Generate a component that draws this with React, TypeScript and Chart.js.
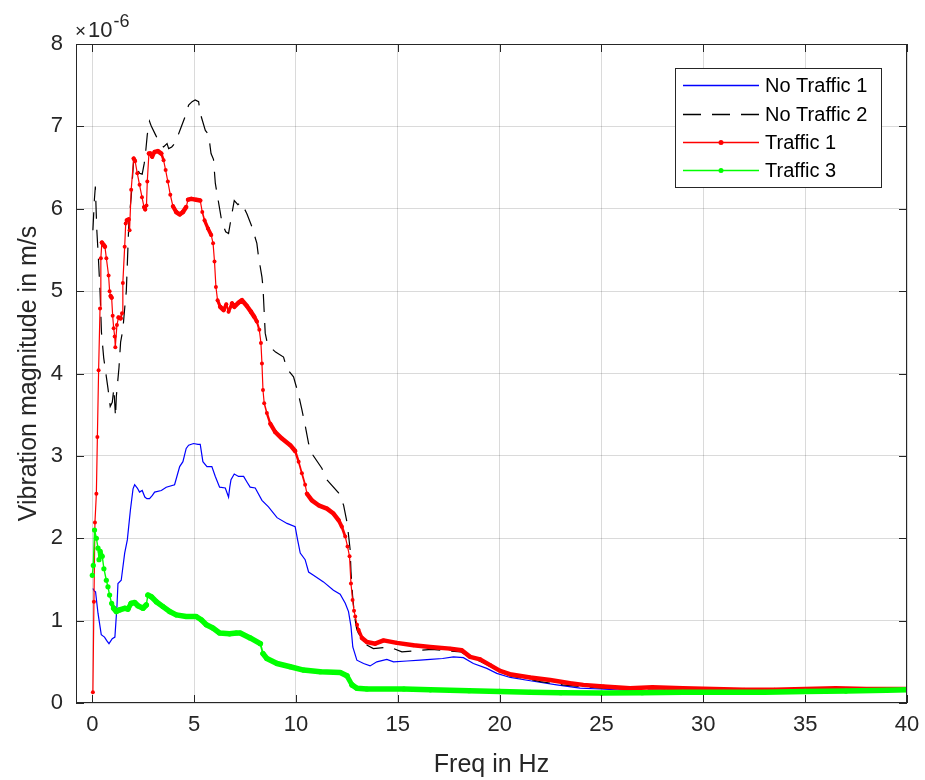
import React, { useEffect, useRef } from "react";
import { Chart, registerables } from "chart.js";

Chart.register(...registerables);

// ---------- axis settings ----------
const xTickValues = [0, 5, 10, 15, 20, 25, 30, 35, 40];
const yTickValues = [0, 1, 2, 3, 4, 5, 6, 7, 8];
const xLimits = [-0.8, 40];
const yLimits = [0, 8];
const yExponentText = ["\u00d7", "10", "-6"];
const xTitle = "Freq in Hz";
const yTitle = "Vibration magnitude in m/s";

// ---------- data (magnitudes in units of 1e-6 m/s) ----------
const noTraffic1Freq = [
  0.03, 0.1, 0.16, 0.28, 0.44, 0.6, 0.7, 0.82, 0.98, 1.11, 1.21, 1.26, 1.42, 1.59, 1.72, 1.87, 2.0, 2.08,
  2.21, 2.32, 2.45, 2.58, 2.68, 2.81, 2.95, 3.06, 3.39, 3.63, 4.04, 4.29, 4.45, 4.61, 4.73, 4.97, 5.19, 5.3,
  5.43, 5.63, 5.87, 6.04, 6.25, 6.53, 6.69, 6.75, 6.81, 6.97, 7.18, 7.43, 7.6, 7.75, 8.0, 8.33, 8.65, 9.07,
  9.56, 9.96, 10.08, 10.21, 10.45, 10.62, 10.86, 11.35, 11.84, 12.17, 12.42, 12.58, 12.7, 12.79, 12.99, 13.32,
  13.64, 13.97, 14.46, 14.79, 15.45, 16.1, 16.6, 17.2, 17.73, 18.22, 18.71, 19.37, 19.86, 20.52, 21.5, 22.8,
  23.95, 24.93, 26.5, 28, 30, 32, 34, 36, 38, 40,
];
const noTraffic1Mag = [
  1.39, 1.36, 1.35, 1.09, 0.83, 0.8, 0.76, 0.72, 0.78, 0.8, 1.17, 1.45, 1.49, 1.82, 1.98, 2.34, 2.6, 2.65,
  2.61, 2.56, 2.58, 2.5, 2.48, 2.48, 2.52, 2.56, 2.58, 2.62, 2.65, 2.87, 2.93, 3.09, 3.13, 3.15, 3.14, 3.14,
  2.93, 2.87, 2.87, 2.75, 2.62, 2.61, 2.5, 2.62, 2.71, 2.78, 2.75, 2.75, 2.68, 2.62, 2.61, 2.46, 2.38, 2.25,
  2.18, 2.14, 1.98, 1.82, 1.74, 1.59, 1.55, 1.47, 1.37, 1.32, 1.21, 1.11, 0.93, 0.68, 0.52, 0.48,
  0.45, 0.5, 0.53, 0.5, 0.51, 0.52, 0.53, 0.54, 0.56, 0.55, 0.48, 0.42, 0.36, 0.31, 0.27, 0.22,
  0.18, 0.17, 0.15, 0.14, 0.14, 0.14, 0.14, 0.15, 0.16, 0.17,
];

const noTraffic2Freq = [
  0.03, 0.1, 0.15, 0.22, 0.3, 0.38, 0.45, 0.56, 0.69, 0.77, 0.88, 0.98, 1.06, 1.14, 1.18, 1.31, 1.39, 1.5,
  1.6, 1.67, 1.8, 1.91, 1.98, 2.03, 2.16, 2.32, 2.45, 2.55, 2.62, 2.7, 2.81, 2.9, 3.1, 3.3, 3.5, 3.67, 3.75,
  3.9, 4.07, 4.3, 4.56, 4.73, 4.9, 5.05, 5.22, 5.3, 5.55, 5.71, 5.83, 5.95, 6.04, 6.12, 6.28, 6.36, 6.55,
  6.69, 6.82, 6.97, 7.15, 7.31, 7.59, 7.84, 8.08, 8.16, 8.33, 8.38, 8.49, 8.6, 8.74, 9.0, 9.39, 9.55, 9.88,
  10.13, 10.29, 10.45, 10.62, 10.83, 11.27, 11.52, 12.09, 12.34, 12.5, 12.58, 12.66, 12.7, 12.78, 12.88,
  12.98, 13.06, 13.3, 13.5, 13.8, 14.6, 15.2, 16.1, 16.67, 17.57, 18.1, 18.5, 19.0, 19.5, 20.0, 20.5, 21.2,
  22.0, 23.1, 24.0, 25.0, 26.5, 28, 30, 32, 34, 36, 38, 40,
];
const noTraffic2Mag = [
  5.74, 6.1, 6.27, 5.75, 5.4, 5.0, 4.5, 4.19, 3.96, 3.82, 3.6, 3.65, 3.82, 3.47, 3.72, 4.07, 4.38, 4.53,
  4.82, 5.0, 5.86, 6.14, 6.4, 6.58, 6.51, 6.43, 6.42, 6.55, 6.69, 6.9, 7.06, 7.0, 6.9, 6.8, 6.75, 6.79, 6.73,
  6.75, 6.8, 6.95, 7.12, 7.26, 7.3, 7.32, 7.3, 7.16, 6.95, 6.9, 6.67, 6.6, 6.31, 6.19, 5.96, 5.84, 5.72,
  5.7, 5.89, 6.1, 6.05, 6.08, 5.94, 5.78, 5.58, 5.42, 5.17, 5.05, 4.49, 4.36, 4.32, 4.26, 4.2, 4.06, 3.96,
  3.74, 3.56, 3.37, 3.15, 3.01, 2.85, 2.71, 2.55, 2.4, 2.2, 2.04, 1.86, 1.6, 1.3, 1.05,
  0.9, 0.85, 0.76, 0.7, 0.66, 0.68, 0.62, 0.64, 0.65, 0.63, 0.62, 0.56, 0.51, 0.45, 0.38, 0.33, 0.3,
  0.26, 0.22, 0.2, 0.18, 0.17, 0.17, 0.16, 0.15, 0.16, 0.17, 0.16, 0.17,
];

const traffic1Freq = [
  0.03, 0.08, 0.13, 0.2, 0.25, 0.31, 0.38, 0.42, 0.47, 0.56, 0.62, 0.69, 0.8, 0.85, 0.9, 0.95, 1.0, 1.05,
  1.1, 1.13, 1.21, 1.29, 1.39, 1.46, 1.5, 1.59, 1.64, 1.7, 1.78, 1.83, 1.91, 2.03, 2.1, 2.21, 2.32, 2.44,
  2.54, 2.6, 2.66, 2.7, 2.78, 2.85, 2.94, 3.06, 3.22, 3.39, 3.5, 3.6, 3.71, 3.83, 3.96, 4.12, 4.29, 4.45,
  4.61, 4.7, 4.86, 5.1, 5.3, 5.4, 5.51, 5.68, 5.84, 5.93, 6.0, 6.07, 6.15, 6.28, 6.45, 6.58, 6.69, 6.86,
  6.97, 7.18, 7.35, 7.59, 7.79, 7.95, 8.08, 8.2, 8.28, 8.33, 8.38, 8.44, 8.57, 8.74, 8.98, 9.31, 9.72, 9.96,
  10.13, 10.29, 10.45, 10.54, 10.78, 11.11, 11.52, 11.84, 12.09, 12.25, 12.42, 12.53, 12.63, 12.7, 12.78,
  12.85, 12.91, 13.0, 13.07, 13.24, 13.48, 13.89, 14.3, 14.95, 15.77, 16.59, 17.57, 18.14, 18.55, 19.04,
  19.53, 20.02, 20.5, 21.5, 22.48, 23.46, 24.11, 25.1, 26.4, 27.5, 29, 30.5, 32, 33.5, 35, 36.5, 38, 40,
];
const traffic1Mag = [
  0.13, 1.23, 2.19, 2.54, 3.23, 4.04, 4.79, 5.4, 5.59, 5.56, 5.54, 5.4, 5.19, 5.0, 4.94, 4.92, 4.7, 4.55,
  4.45, 4.32, 4.59, 4.68, 4.67, 4.73, 5.1, 5.54, 5.82, 5.86, 5.87, 5.74, 6.23, 6.61, 6.58, 6.43, 6.29, 6.14,
  6.02, 5.99, 6.04, 6.33, 6.67, 6.67, 6.63, 6.69, 6.7, 6.67, 6.59, 6.47, 6.33, 6.17, 6.03, 5.96, 5.93, 5.96,
  6.02, 6.11, 6.12, 6.11, 6.1, 5.96, 5.86, 5.76, 5.68, 5.58, 5.36, 5.05, 4.89, 4.81, 4.77, 4.84, 4.75, 4.85,
  4.81, 4.86, 4.89, 4.82, 4.75, 4.69, 4.63, 4.53, 4.37, 4.12, 3.8, 3.64, 3.52, 3.39, 3.29, 3.21, 3.13, 3.06,
  2.93, 2.79, 2.65, 2.54, 2.46, 2.4, 2.36, 2.3, 2.22, 2.14, 2.02, 1.9, 1.78, 1.45, 1.25,
  1.12, 1.05, 0.95, 0.89, 0.79, 0.74, 0.72, 0.76, 0.73, 0.7, 0.68, 0.66, 0.64, 0.56, 0.53,
  0.46, 0.39, 0.35, 0.31, 0.28, 0.24, 0.22, 0.2, 0.18, 0.19, 0.18, 0.17, 0.16, 0.16, 0.17, 0.18, 0.17, 0.17,
];

const traffic3Freq = [
  0.0, 0.05, 0.11, 0.2, 0.28, 0.33, 0.39, 0.49, 0.57, 0.69, 0.77, 0.85, 0.95, 1.05, 1.18, 1.34, 1.59, 1.75,
  1.91, 2.08, 2.24, 2.49, 2.65, 2.73, 2.9, 3.14, 3.47, 3.8, 4.12, 4.61, 5.1, 5.35, 5.6, 5.92, 6.25, 6.74,
  7.07, 7.26, 7.75, 8.25, 8.38, 8.57, 9.07, 9.72, 10.37, 11.19, 12.17, 12.5, 12.75, 12.99, 13.48, 15.3,
  16.6, 18.5, 20, 21.5, 23, 25, 27, 29, 31, 33, 35, 37, 39, 40,
];
const traffic3Mag = [
  1.55, 1.67, 2.1, 2.0, 1.88, 1.74, 1.84, 1.78, 1.63, 1.49, 1.41, 1.31, 1.21, 1.15, 1.11, 1.13, 1.15, 1.14,
  1.21, 1.22, 1.18, 1.15, 1.19, 1.31, 1.29, 1.23, 1.17, 1.11, 1.07, 1.05, 1.05, 1.01, 0.95, 0.91, 0.85, 0.84,
  0.85, 0.85, 0.79, 0.72, 0.6, 0.54, 0.48, 0.44, 0.4, 0.38, 0.37, 0.33, 0.22, 0.18, 0.17, 0.17,
  0.16, 0.15, 0.14, 0.13, 0.125, 0.12, 0.125, 0.13, 0.13, 0.13, 0.14, 0.145, 0.155, 0.16,
];

const seriesLabels = ["No Traffic 1", "No Traffic 2", "Traffic 1", "Traffic 3"];

// ---------- styling ----------
const FONT = '"Liberation Sans", Arial, Helvetica, sans-serif';
const INK = "#262626";
const GRID = "rgba(38,38,38,0.17)";

const toPoints = (xs: number[], ys: number[]) => xs.map((x, i) => ({ x, y: ys[i] }));

// dense marker chains look like a thick band where the curve is flat
const bandWidth = (thick: number, thin: number) => (ctx: any) => {
  const dx = Math.abs(ctx.p1.x - ctx.p0.x);
  const dy = Math.abs(ctx.p1.y - ctx.p0.y);
  const s = dy / Math.max(dx, 0.01);
  if (s <= 1.5) return thick;
  if (s >= 4) return thin;
  return thick + ((thin - thick) * (s - 1.5)) / 2.5;
};

const framePlugin = {
  id: "matlabFrame",
  afterDatasetsDraw(chart: any) {
    const { ctx, chartArea, scales } = chart;
    const { left, right, top, bottom } = chartArea;
    const L = 8;
    ctx.save();
    ctx.strokeStyle = INK;
    ctx.lineWidth = 1;
    ctx.beginPath();
    xTickValues.forEach((v) => {
      const px = Math.round(scales.x.getPixelForValue(v)) + 0.5;
      ctx.moveTo(px, bottom);
      ctx.lineTo(px, bottom - L);
      ctx.moveTo(px, top);
      ctx.lineTo(px, top + L);
    });
    yTickValues.forEach((v) => {
      const py = Math.round(scales.y.getPixelForValue(v)) + 0.5;
      ctx.moveTo(left, py);
      ctx.lineTo(left + L, py);
      ctx.moveTo(right, py);
      ctx.lineTo(right - L, py);
    });
    ctx.stroke();
    ctx.strokeRect(left + 0.5, top + 0.5, right - left - 1, bottom - top - 1);

    // exponent label  x10^-6
    ctx.fillStyle = INK;
    ctx.textBaseline = "alphabetic";
    ctx.textAlign = "left";
    ctx.font = `19px ${FONT}`;
    ctx.fillText(yExponentText[0], left - 1, top - 7);
    ctx.font = `22px ${FONT}`;
    ctx.fillText(yExponentText[1], left + 12, top - 7);
    const w = ctx.measureText(yExponentText[1]).width;
    ctx.font = `18px ${FONT}`;
    ctx.fillText(yExponentText[2], left + 13 + w, top - 17);
    ctx.restore();
  },
};

const legendPlugin = {
  id: "boxLegend",
  afterDraw(chart: any) {
    const { ctx, chartArea } = chart;
    const w = 206;
    const h = 119;
    const x0 = chartArea.right - 26 - w;
    const y0 = chartArea.top + 24;
    const rows = [17, 46, 74, 102];
    ctx.save();
    ctx.fillStyle = "#ffffff";
    ctx.fillRect(x0, y0, w, h);
    ctx.strokeStyle = INK;
    ctx.lineWidth = 1;
    ctx.strokeRect(x0 + 0.5, y0 + 0.5, w, h);
    chart.data.datasets.forEach((ds: any, i: number) => {
      const y = Math.round(y0 + rows[i]) + 0.5;
      const xa = x0 + 8;
      const xb = x0 + 84;
      ctx.strokeStyle = ds.borderColor;
      ctx.lineWidth = 1.3;
      ctx.setLineDash(ds.borderDash || []);
      ctx.beginPath();
      ctx.moveTo(xa, y);
      ctx.lineTo(xb, y);
      ctx.stroke();
      ctx.setLineDash([]);
      if (ds.pointRadius > 0) {
        ctx.fillStyle = ds.borderColor;
        ctx.beginPath();
        ctx.arc((xa + xb) / 2, y, 2.5, 0, Math.PI * 2);
        ctx.fill();
      }
      ctx.fillStyle = "#000000";
      ctx.font = `20px ${FONT}`;
      ctx.textBaseline = "middle";
      ctx.textAlign = "left";
      ctx.fillText(ds.label, x0 + 90, y + 1);
    });
    ctx.restore();
  },
};

export default function App() {
  const canvasRef = useRef<HTMLCanvasElement>(null);

  useEffect(() => {
    document.body.style.margin = "0";
    const canvas = canvasRef.current;
    if (!canvas) return;
    const chart = new Chart(canvas, {
      type: "line",
      data: {
        datasets: [
          {
            label: seriesLabels[0],
            data: toPoints(noTraffic1Freq, noTraffic1Mag),
            borderColor: "#0000ff",
            backgroundColor: "#0000ff",
            borderWidth: 1.2,
            pointRadius: 0,
            order: 3,
          },
          {
            label: seriesLabels[1],
            data: toPoints(noTraffic2Freq, noTraffic2Mag),
            borderColor: "#000000",
            backgroundColor: "#000000",
            borderWidth: 1.2,
            borderDash: [18, 11],
            pointRadius: 0,
            order: 2,
          },
          {
            label: seriesLabels[2],
            data: toPoints(traffic1Freq, traffic1Mag),
            borderColor: "#ff0000",
            backgroundColor: "#ff0000",
            borderWidth: 1.2,
            pointRadius: 2,
            pointBorderWidth: 0,
            pointBackgroundColor: "#ff0000",
            borderCapStyle: "round",
            borderJoinStyle: "round",
            segment: { borderWidth: bandWidth(4.5, 1.2) },
            order: 1,
          },
          {
            label: seriesLabels[3],
            data: toPoints(traffic3Freq, traffic3Mag),
            borderColor: "#00ff00",
            backgroundColor: "#00ff00",
            borderWidth: 1.2,
            pointRadius: 2.6,
            pointBorderWidth: 0,
            pointBackgroundColor: "#00ff00",
            borderCapStyle: "round",
            borderJoinStyle: "round",
            segment: { borderWidth: bandWidth(5.5, 1.4) },
            order: 0,
          },
        ] as any,
      },
      options: {
        responsive: false,
        animation: false,
        parsing: false as any,
        normalized: true,
        layout: { padding: { top: 44, right: 18, left: 0, bottom: 0 } },
        plugins: {
          legend: { display: false },
          tooltip: { enabled: false },
        },
        elements: { line: { tension: 0 } },
        scales: {
          x: {
            type: "linear",
            min: xLimits[0],
            max: xLimits[1],
            afterBuildTicks: (s: any) => {
              s.ticks = xTickValues.map((v) => ({ value: v }));
            },
            afterFit: (s: any) => {
              s.height = 77;
              s.paddingLeft = 0;
              s.paddingRight = 0;
            },
            grid: { color: GRID, lineWidth: 1, drawTicks: false },
            border: { display: false },
            ticks: {
              color: INK,
              padding: 9,
              maxRotation: 0,
              autoSkip: false,
              font: { family: FONT, size: 22 },
            },
            title: {
              display: true,
              text: xTitle,
              color: INK,
              font: { family: FONT, size: 25, lineHeight: 1 },
              padding: { top: 0, bottom: 2 },
            },
          },
          y: {
            type: "linear",
            min: yLimits[0],
            max: yLimits[1],
            afterBuildTicks: (s: any) => {
              s.ticks = yTickValues.map((v) => ({ value: v }));
            },
            afterFit: (s: any) => {
              s.width = 76;
              s.paddingTop = 0;
              s.paddingBottom = 0;
            },
            grid: { color: GRID, lineWidth: 1, drawTicks: false },
            border: { display: false },
            ticks: {
              color: INK,
              padding: 13,
              autoSkip: false,
              font: { family: FONT, size: 22 },
            },
            title: {
              display: true,
              text: yTitle,
              color: INK,
              font: { family: FONT, size: 25, lineHeight: 1 },
              padding: { top: 17, bottom: 0 },
            },
          },
        },
      },
      plugins: [framePlugin, legendPlugin],
    });
    return () => chart.destroy();
  }, []);

  return (
    <div style={{ width: 925, height: 780, background: "#ffffff" }}>
      <canvas ref={canvasRef} width={925} height={780} style={{ display: "block" }} />
    </div>
  );
}
